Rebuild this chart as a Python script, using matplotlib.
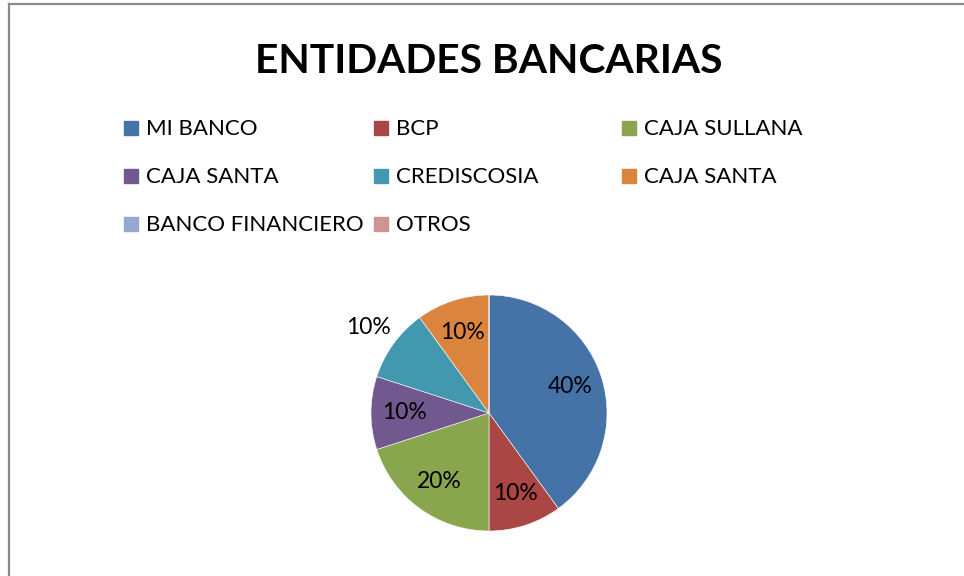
import matplotlib.pyplot as plt
from matplotlib.patches import Rectangle
from matplotlib.lines import Line2D

plt.rcParams['font.family'] = ['Lato', 'DejaVu Sans']

entidades = ['MI BANCO', 'BCP', 'CAJA SULLANA', 'CAJA SANTA', 'CREDISCOSIA',
             'CAJA SANTA', 'BANCO FINANCIERO', 'OTROS']
porcentajes = [40, 10, 20, 10, 10, 10, 0, 0]
colores = ['#4572A7', '#AA4643', '#89A54E', '#71588F', '#4198AF',
           '#DB843D', '#93A9CF', '#D19392']

W, H = 964, 576
fig = plt.figure(figsize=(W / 100, H / 100), dpi=100)

# chart border (only left and top visible in the crop)
fig.add_artist(Line2D([9 / W, 9 / W], [0, 1 - 4 / H], color='#8a8a8a', lw=1.6))
fig.add_artist(Line2D([9 / W, 1], [1 - 4 / H, 1 - 4 / H], color='#8a8a8a', lw=1.6))

fig.text(489 / W, 1 - 73 / H, 'ENTIDADES BANCARIAS', ha='center', va='baseline',
         fontsize=29.3, fontweight='bold')

# legend laid out row by row, three columns
col_x = [124, 374, 622]
row_y = [135, 183, 231]
for i, (nombre, c) in enumerate(zip(entidades, colores)):
    x = col_x[i % 3]
    y = row_y[i // 3]
    fig.add_artist(Rectangle((x / W, 1 - y / H), 14 / W, 14 / H, color=c,
                             transform=fig.transFigure))
    fig.text((x + 22) / W, 1 - y / H, nombre, ha='left', va='baseline', fontsize=16)

cx, cy, r = 489, 413, 118
ax = fig.add_axes([(cx - r) / W, (H - cy - r) / H, 2 * r / W, 2 * r / H])
wedges, textos, pcts = ax.pie(porcentajes, colors=colores, startangle=90,
                              counterclock=False, radius=1,
                              autopct=lambda p: f'{p:.0f}%' if p > 0 else '',
                              pctdistance=0.72,
                              wedgeprops=dict(edgecolor='white', linewidth=0.4),
                              textprops=dict(fontsize=16.5))
# the CREDISCOSIA label sits outside the pie
px, py = pcts[4].get_position()
pcts[4].set_position((px * 1.76, py * 1.72))
ax.set_xlim(-1, 1)
ax.set_ylim(-1, 1)
ax.set_aspect('equal')
ax.axis('off')

fig.savefig('out.png', dpi=100)
